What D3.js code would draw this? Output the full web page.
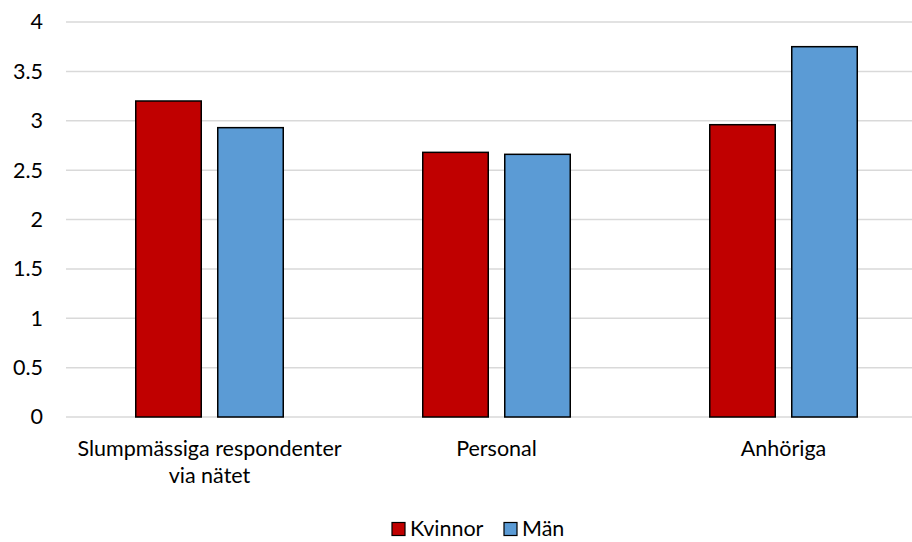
<!DOCTYPE html>
<html>
<head>
<meta charset="utf-8">
<script src="https://cdn.jsdelivr.net/npm/d3@7"></script>
<style>
  html, body { margin: 0; padding: 0; background: #fff; }
  svg { display: block; font-family: Lato, "Open Sans", sans-serif; }
</style>
</head>
<body>
<svg id="chart" width="912" height="542"></svg>
<script>
// Categories and series
const categories = [["Slumpmässiga respondenter", "via nätet"], ["Personal"], ["Anhöriga"]];
const seriesNames = ["Kvinnor", "Män"];
const kvinnor = [3.2, 2.68, 2.96];
const man = [2.93, 2.66, 3.75];
const yTicks = [0, 0.5, 1, 1.5, 2, 2.5, 3, 3.5, 4];
const colors = ["#c00000", "#5b9bd5"];

const svg = d3.select("#chart");
const plot = { left: 66, right: 927, top: 22, bottom: 417 };
const fontSize = 21.5;

const x0 = d3.scaleBand().domain(d3.range(categories.length)).range([plot.left, plot.right]);
const y = d3.scaleLinear().domain([0, 4]).range([plot.bottom, plot.top]);

const barW = 65.5, innerGap = 16.5;
const groupW = barW * 2 + innerGap;

// Gridlines
svg.append("g").selectAll("line").data(yTicks).join("line")
  .attr("x1", plot.left).attr("x2", plot.right)
  .attr("y1", d => y(d)).attr("y2", d => y(d))
  .attr("stroke", "#d9d9d9").attr("stroke-width", 1.5);

// Y axis labels
const yAxis = d3.axisLeft(y).tickValues(yTicks).tickSize(0).tickPadding(0).tickFormat(d3.format("~g"));
svg.append("g").attr("transform", "translate(43,0)").call(yAxis)
  .call(g => g.select(".domain").remove())
  .selectAll("text").attr("font-size", fontSize).attr("fill", "#000").attr("font-family", "Lato, sans-serif");

// Bars
const data = [kvinnor, man];
data.forEach((vals, si) => {
  svg.append("g").selectAll("rect").data(vals).join("rect")
    .attr("x", (d, i) => x0(i) + x0.bandwidth() / 2 - groupW / 2 + si * (barW + innerGap))
    .attr("y", d => y(d))
    .attr("width", barW)
    .attr("height", d => y(0) - y(d))
    .attr("fill", colors[si])
    .attr("stroke", "#000").attr("stroke-width", 1.5);
});

// Category labels
const cat = svg.append("g").selectAll("text").data(categories).join("text")
  .attr("x", (d, i) => x0(i) + x0.bandwidth() / 2)
  .attr("y", 456)
  .attr("text-anchor", "middle").attr("font-size", fontSize).attr("fill", "#000");
cat.selectAll("tspan").data(d => d).join("tspan")
  .attr("x", function () { return d3.select(this.parentNode).attr("x"); })
  .attr("dy", (d, i) => i === 0 ? 0 : 27)
  .text(d => d);

// Legend
const legend = svg.append("g").attr("transform", "translate(0,529)");
const legendItems = [{ name: seriesNames[0], x: 392, c: colors[0] }, { name: seriesNames[1], x: 504, c: colors[1] }];
legendItems.forEach(it => {
  legend.append("rect").attr("x", it.x).attr("y", -6.5).attr("width", 13).attr("height", 13)
    .attr("fill", it.c).attr("stroke", "#000").attr("stroke-width", 1.2);
  legend.append("text").attr("x", it.x + 18).attr("y", 7).attr("font-size", fontSize).attr("fill", "#000").text(it.name);
});
</script>
</body>
</html>
